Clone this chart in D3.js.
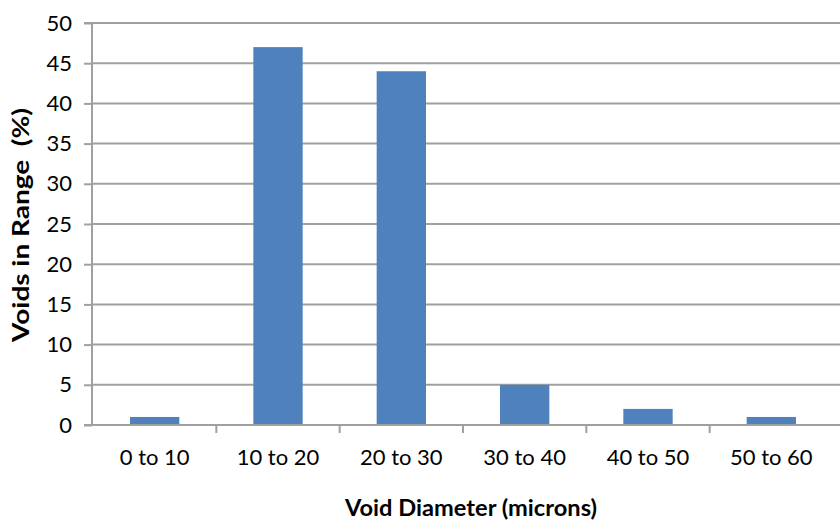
<!DOCTYPE html>
<html><head><meta charset="utf-8">
<script src="https://cdn.jsdelivr.net/npm/d3@7"></script>
<style>body{margin:0;background:#fff}svg{display:block}</style>
</head><body>
<svg id="c" width="840" height="522"></svg>
<script>
const categories = ["0 to 10","10 to 20","20 to 30","30 to 40","40 to 50","50 to 60"];
const values = [1, 47, 44, 5, 2, 1];
const yTicks = [0,5,10,15,20,25,30,35,40,45,50];
const xTitle = "Void Diameter (microns)";
const yTitle = "Voids in Range  (%)";

(function () {
const svg = d3.select("#c");
const font = "Lato, 'Open Sans', sans-serif";
const mLeft = 92, mRight = 833, mTop = 23, mBottom = 425;

const x = d3.scaleBand().domain(categories).range([mLeft + 1, mRight]).paddingInner(0.6).paddingOuter(0.3);
const y = d3.scaleLinear().domain([0, 50]).range([mBottom, mTop]);

// gridlines
svg.append("g").selectAll("line").data(yTicks.filter(d => d > 0)).join("line")
  .attr("x1", mLeft).attr("x2", 840)
  .attr("y1", d => y(d)).attr("y2", d => y(d))
  .attr("stroke", "#a0a0a0").attr("stroke-width", 2);

// bars
svg.append("g").selectAll("rect").data(values).join("rect")
  .attr("x", (d, i) => x(categories[i]))
  .attr("width", x.bandwidth())
  .attr("y", d => y(d))
  .attr("height", d => mBottom - y(d))
  .attr("fill", "#4f81bd");

// y axis
const ya = svg.append("g").attr("transform", `translate(${mLeft},0)`)
  .call(d3.axisLeft(y).tickValues(yTicks).tickSize(8).tickPadding(12));
ya.select(".domain").attr("stroke", "#a0a0a0").attr("stroke-width", 2).attr("d", `M-8,${mTop}H0V${mBottom}H-8`);
ya.selectAll(".tick line").attr("stroke", "#a0a0a0").attr("stroke-width", 2);
ya.selectAll(".tick text").attr("font-family", font).attr("font-size", 22).attr("fill", "#000");

// x axis
const xa = svg.append("g").attr("transform", `translate(0,${mBottom})`)
  .call(d3.axisBottom(x).tickSize(0).tickPadding(24));
xa.select(".domain").attr("stroke", "#a0a0a0").attr("stroke-width", 2).attr("d", `M${mLeft},0H840`);
xa.selectAll(".tick text").attr("font-family", font).attr("font-size", 22).attr("fill", "#000");
// boundary tick marks between categories
const step = x.step();
svg.append("g").selectAll("line").data(categories.slice(1)).join("line")
  .attr("x1", d => x(d) - (x.paddingInner() * step) / 2)
  .attr("x2", d => x(d) - (x.paddingInner() * step) / 2)
  .attr("y1", mBottom).attr("y2", mBottom + 8)
  .attr("stroke", "#a0a0a0").attr("stroke-width", 2);

// titles
svg.append("text").attr("x", 471).attr("y", 516).attr("text-anchor", "middle")
  .attr("font-family", font).attr("font-weight", "bold").attr("font-size", 23)
  .attr("textLength", 252).attr("lengthAdjust", "spacingAndGlyphs").text(xTitle);
svg.append("text").attr("transform", "translate(29,225) rotate(-90)").attr("text-anchor", "middle")
  .style("white-space", "pre")
  .attr("font-family", font).attr("font-weight", "bold").attr("font-size", 22)
  .attr("textLength", 234).attr("lengthAdjust", "spacingAndGlyphs").text(yTitle);
})();
</script>
</body></html>
